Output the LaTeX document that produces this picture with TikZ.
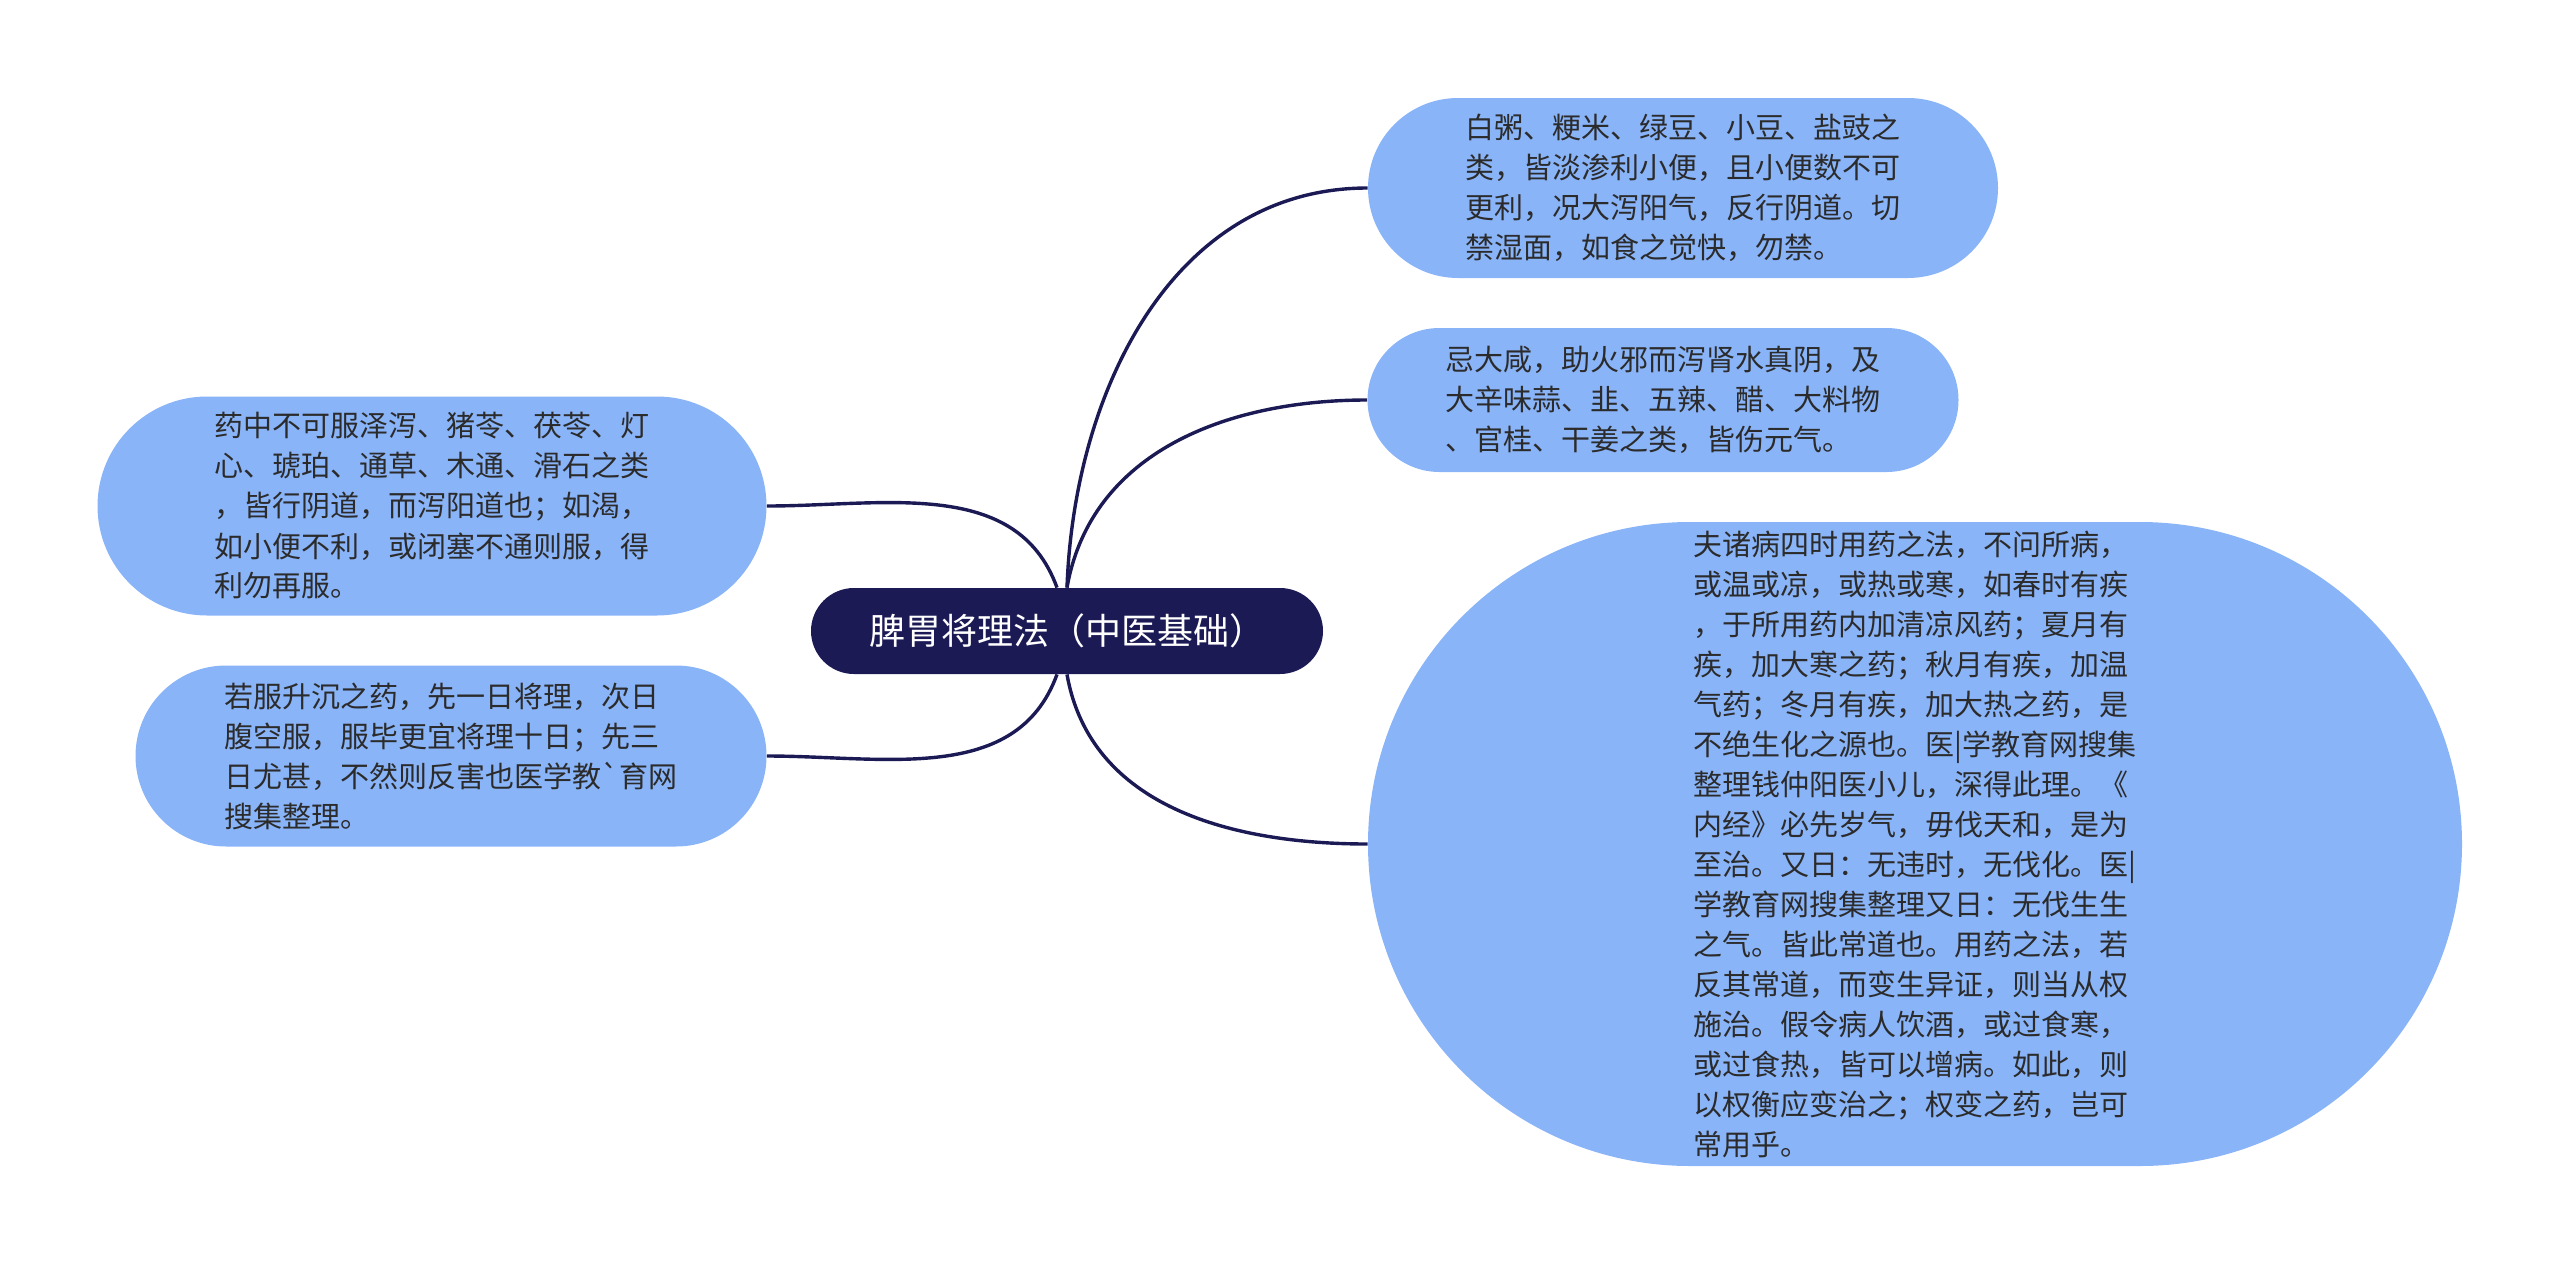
\documentclass[tikz,border=0pt]{standalone}
\usepackage{fontspec}
\setmainfont{Noto Sans CJK SC}
\usetikzlibrary{shapes.misc}
\definecolor{rootnavy}{HTML}{1B1A55}
\definecolor{leafblue}{HTML}{8AB4F8}
\definecolor{leaftext}{HTML}{2B2B2B}
\tikzset{
    rootbox/.style={rounded rectangle, fill=rootnavy, text=white,
        font=\fontsize{18}{22}\selectfont,
        minimum width=256pt, minimum height=43pt, inner sep=0pt},
    leafbox/.style={rounded rectangle, fill=leafblue, text=leaftext,
        align=left, font=\fontsize{14.5}{20}\selectfont, inner sep=0pt},
    branchline/.style={draw=rootnavy, line width=1.7pt},
}

\begin{document}
\begin{tikzpicture}[x=0.5pt, y=-0.5pt]
\useasboundingbox (0,0) rectangle (2560,1264);

% centre
\node[rootbox] (root) at (1067,631) {脾胃将理法（中医基础）};

% right side
\node[leafbox, minimum width=315pt, minimum height=90pt] (diet) at (1683,188)
    {白粥、粳米、绿豆、小豆、盐豉之\\类，皆淡渗利小便，且小便数不可\\更利，况大泻阳气，反行阴道。切\\禁湿面，如食之觉快，勿禁。};
\node[leafbox, minimum width=295.5pt, minimum height=72pt] (avoid) at (1663,400)
    {忌大咸，助火邪而泻肾水真阴，及\\大辛味蒜、韭、五辣、醋、大料物\\、官桂、干姜之类，皆伤元气。};
\node[leafbox, minimum width=547pt, minimum height=322pt] (season) at (1915,844)
    {夫诸病四时用药之法，不问所病，\\或温或凉，或热或寒，如春时有疾\\，于所用药内加清凉风药；夏月有\\疾，加大寒之药；秋月有疾，加温\\气药；冬月有疾，加大热之药，是\\不绝生化之源也。医|学教育网搜集\\整理钱仲阳医小儿，深得此理。《\\内经》必先岁气，毋伐天和，是为\\至治。又日：无违时，无伐化。医|\\学教育网搜集整理又日：无伐生生\\之气。皆此常道也。用药之法，若\\反其常道，而变生异证，则当从权\\施治。假令病人饮酒，或过食寒，\\或过食热，皆可以增病。如此，则\\以权衡应变治之；权变之药，岂可\\常用乎。};

% left side
\node[leafbox, minimum width=334.5pt, minimum height=109.5pt] (drug) at (432,506)
    {药中不可服泽泻、猪苓、茯苓、灯\\心、琥珀、通草、木通、滑石之类\\，皆行阴道，而泻阳道也；如渴，\\如小便不利，或闭塞不通则服，得\\利勿再服。};
\node[leafbox, minimum width=315.5pt, minimum height=90.5pt] (timing) at (451,756)
    {若服升沉之药，先一日将理，次日\\腹空服，服毕更宜将理十日；先三\\日尤甚，不然则反害也医学教\textasciigrave 育网\\搜集整理。};

% branches
\draw[branchline] (root.north) to[out=88,in=180] (diet.west);
\draw[branchline] (root.north) to[out=80,in=180] (avoid.west);
\draw[branchline] (root.south) to[out=-80,in=180] (season.west);
\draw[branchline] ([xshift=-5pt]root.north) to[out=110,in=0] (drug.east);
\draw[branchline] ([xshift=-5pt]root.south) to[out=-110,in=0] (timing.east);
\end{tikzpicture}
\end{document}
